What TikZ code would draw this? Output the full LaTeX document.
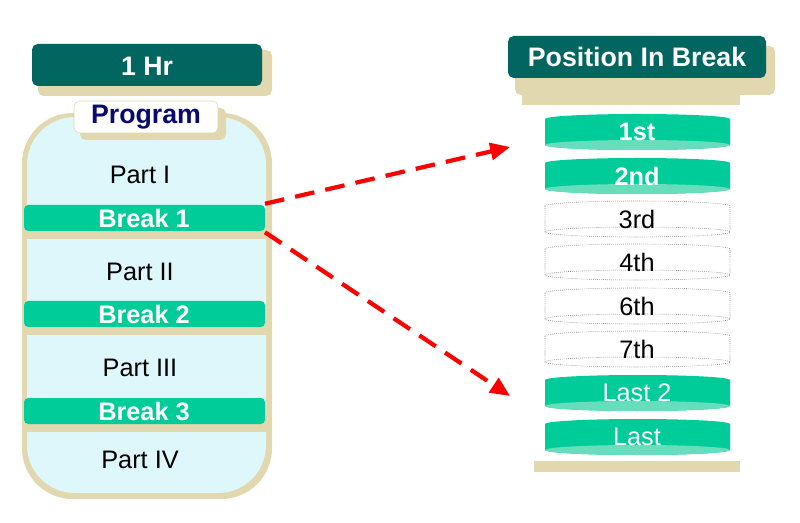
\documentclass[tikz,border=0pt]{standalone}
\usepackage{fontspec}
\setmainfont{Liberation Sans}
\usetikzlibrary{positioning,arrows.meta}
\definecolor{teal}{HTML}{00665F}
\definecolor{tan}{HTML}{E2D8B0}
\definecolor{mint}{HTML}{00CC99}
\definecolor{mintlt}{HTML}{66DDBB}
\definecolor{ice}{HTML}{DDF7FA}
\definecolor{navy}{HTML}{0A0A6E}
\begin{document}
\begin{tikzpicture}[x=0.025cm, y=-0.025cm,
  title/.style={fill=teal, rounded corners=4pt, text=white,
    font=\fontsize{19}{21}\selectfont\bfseries},
  shadow/.style={fill=tan, rounded corners=4pt},
  brk/.style={fill=mint, rounded corners=3pt},
  brklabel/.style={text=white, font=\fontsize{18}{20}\selectfont\bfseries},
  part/.style={font=\fontsize{18}{20}\selectfont},
  cyltext/.style={font=\fontsize{18}{20}\selectfont},
  link/.style={draw=red, line width=3pt, dash pattern=on 14pt off 8pt,
    -{Triangle[length=14pt, width=12pt]}},
]
  \useasboundingbox (0,0) rectangle (800,523);

  % === left: program ===
  \fill[shadow] (38,50) rectangle (272,96);
  \fill[title] (32,44) rectangle (262,86);
  \node[title, fill=none] (hr) at (147,66) {1 Hr};

  \fill[tan, rounded corners=36pt] (22,113) rectangle (272,499);
  \fill[ice, rounded corners=34pt] (27,117) rectangle (266,493);
  \fill[shadow] (80,108) rectangle (226,140);
  \fill[white, draw=tan, rounded corners=4pt] (74,101) rectangle (218,133);
  \node[font=\fontsize{19}{21}\selectfont\bfseries, text=navy] (prog) at (146,117) {Program};

  \node[part] (p1) at (140,175) {Part I};
  \node[part] (p2) at (140,272) {Part II};
  \node[part] (p3) at (140,368) {Part III};
  \node[part] (p4) at (140,460) {Part IV};

  \foreach \y/\n in {205/1, 301/2, 398/3} {
    \fill[tan] (27,\y+20) rectangle (268,\y+34);
    \fill[brk] (24,\y) rectangle (265,\y+26);
    \node[brklabel] (b\n) at (144,\y+13) {Break \n};
  }

  % === right: positions ===
  \fill[shadow] (515,46) rectangle (775,95);
  \fill[tan] (522,95) rectangle (740,105);
  \fill[title] (508,36) rectangle (766,78);
  \node[title, fill=none] (pos) at (637,57) {Position In Break};

  \foreach \y/\t/\k in {113/1st/f, 157/2nd/f, 200/3rd/e, 243/4th/e,
                        287/6th/e, 330/7th/e, 374/Last 2/l, 418/Last/l} {
    \if\k e
      \draw[densely dotted, gray!70!black, fill=white]
        (545,\y+6) -- (545,\y+32) arc[start angle=180, end angle=360, x radius=92.5, y radius=-5]
        -- (730,\y+6) arc[start angle=0, end angle=180, x radius=92.5, y radius=-5];
      \draw[densely dotted, gray!70!black] (545,\y+32) arc[start angle=180, end angle=0, x radius=92.5, y radius=-5];
    \else
      \fill[mint] (545,\y+6) -- (545,\y+32) arc[start angle=180, end angle=360, x radius=92.5, y radius=-5]
        -- (730,\y+6) arc[start angle=0, end angle=180, x radius=92.5, y radius=-5];
      \fill[mintlt] (637.5,\y+32) ellipse[x radius=92.5, y radius=5];
    \fi
    \if\k f
      \node[cyltext, text=white, font=\fontsize{18}{20}\selectfont\bfseries] (c\y) at (637,\y+19) {\t};
    \else\if\k l
      \node[cyltext, text=white] (c\y) at (637,\y+19) {\t};
    \else
      \node[cyltext] (c\y) at (637,\y+19) {\t};
    \fi\fi
  }
  \fill[tan] (534,461) rectangle (740,472);

  % === arrows ===
  \coordinate (to1) at (510,147);
  \coordinate (to2) at (510,396);
  \draw[link] (b1.north east -| 265,205) -- (to1);
  \draw[link] (b1.south east -| 265,232) -- (to2);
\end{tikzpicture}
\end{document}
